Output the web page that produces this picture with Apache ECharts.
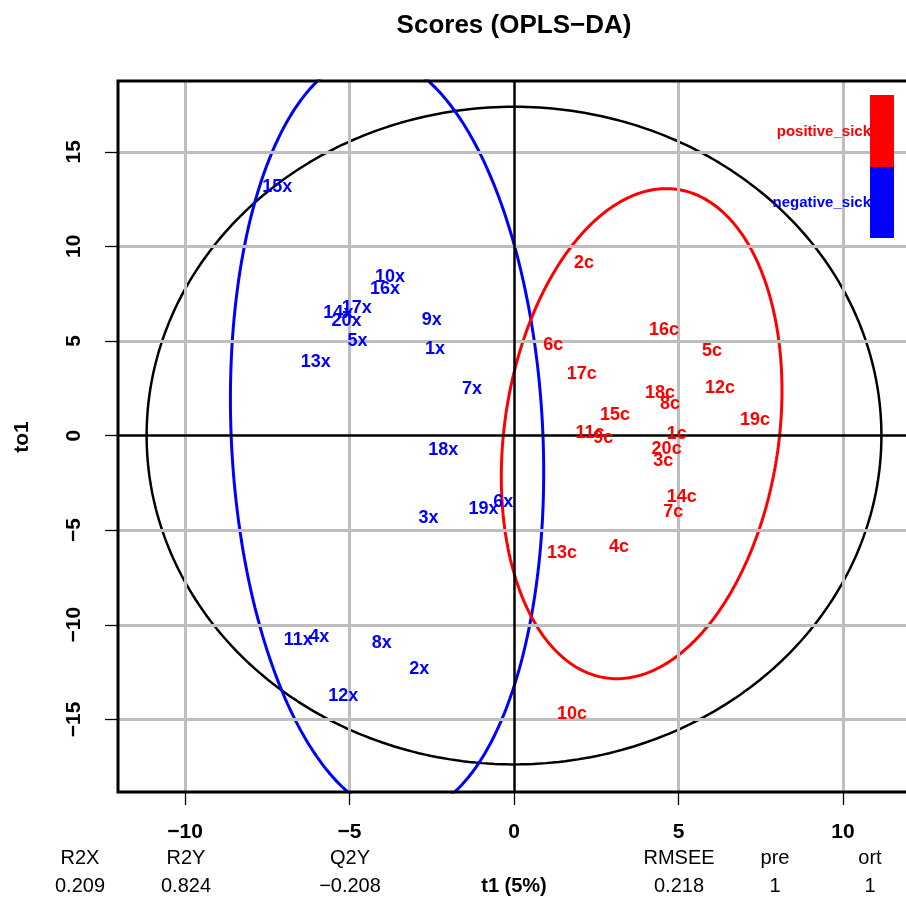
<!DOCTYPE html>
<html><head><meta charset="utf-8">
<script src="https://cdn.jsdelivr.net/npm/echarts@6/dist/echarts.min.js"></script>
<style>html,body{margin:0;padding:0;background:#fff}#c{width:906px;height:899px}</style>
</head><body><div id="c"></div><script>
// ---- data ----
const blueNames = ['1x','2x','3x','4x','5x','6x','7x','8x','9x','10x','11x','12x','13x','14x','15x','16x','17x','18x','19x','20x'];
const blueT1  = [-2.40,-2.88,-2.60,-5.92,-4.76,-0.33,-1.28,-4.02,-2.50,-3.77,-6.56,-5.19,-6.03,-5.34,-7.20,-3.92,-4.78,-2.15,-0.93,-5.09];
const blueTo1 = [ 4.56,-12.33,-4.38,-10.67,4.99,-3.50,2.46,-10.95,6.10,8.36,-10.81,-13.77,3.90,6.46,13.13,7.73,6.72,-0.77,-3.90,6.07];

const redNames = ['1c','2c','3c','4c','5c','6c','7c','8c','9c','10c','11c','12c','13c','14c','15c','16c','17c','18c','19c','20c'];
const redT1  = [4.95,2.13,4.54,3.19,6.02,1.19,4.84,4.74,2.71,1.76,2.31,6.26,1.46,5.10,3.07,4.56,2.06,4.44,7.33,4.64];
const redTo1 = [0.06,9.12,-1.33,-5.89,4.47,4.78,-4.03,1.65,-0.15,-14.72,0.12,2.49,-6.21,-3.23,1.08,5.58,3.25,2.23,0.82,-0.73];

const xTicks = [-10,-5,0,5,10];
const yTicks = [-15,-10,-5,0,5,10,15];
const xRange = [-12.04, 12.1];
const yRange = [-18.84, 18.74];

// ellipses: centre, half-width at centre, half-height, x-shift at top
const ellBlack = {cx:0, cy:0, w:11.17, h:17.38, s:0};
const ellBlue  = {cx:-3.86, cy:0, w:4.74, h:20.05, s:-0.46};
const ellRed   = {cx:3.88, cy:0.1, w:4.2, h:12.95, s:0.75};

const statNames  = ['R2X','R2Y','Q2Y','RMSEE','pre','ort'];
const statValues = ['0.209','0.824','\u22120.208','0.218','1','1'];
const legendNames = ['positive_sick','negative_sick'];

// ---- build ----
const RED = '#FF0000', BLUE = '#0000FF', GRAY = '#BEBEBE';
const FONT = '"Liberation Sans", Arial, Helvetica, sans-serif';
function pts(n, a, b){ return n.map((nm,i)=>[a[i], b[i], nm]); }
function ellipse(e){
  const out=[]; const N=360;
  for(let i=0;i<=N;i++){ const t=2*Math.PI*i/N;
    out.push([e.cx + e.w*Math.cos(t) + e.s*Math.sin(t), e.cy + e.h*Math.sin(t)]); }
  return out;
}
const minus = v => String(v).replace('-', '\u2212');

const chart = echarts.init(document.getElementById('c'), null, {renderer:'canvas'});
const labelSeries = (data, color) => ({
  type:'scatter', data, symbolSize:0, z:6, silent:true,
  itemStyle:{color, opacity:1},
  emphasis:{disabled:true},
  label:{show:true, position:'inside', formatter: p => p.data[2], opacity:1,
    color, fontFamily:FONT, fontWeight:'bold', fontSize:18}
});
const ellSeries = (e, color, w) => ({
  type:'line', data: ellipse(e), showSymbol:false, symbol:'none', z:4, silent:true,
  clip:true, lineStyle:{color, width:w}
});

const statX = [80, 186, 350, 679, 775, 870];
const graphic = [
  {type:'text', x:514, y:26, style:{text:'Scores (OPLS\u2212DA)', font:'bold 26px '+FONT, fill:'#000', align:'center', verticalAlign:'middle'}},
  {type:'text', x:22, y:437, rotation:Math.PI/2, style:{text:'to1', font:'bold 21px '+FONT, fill:'#000', align:'center', verticalAlign:'middle'}},
  {type:'text', x:514, y:886, style:{text:'t1 (5%)', font:'bold 20px '+FONT, fill:'#000', align:'center', verticalAlign:'middle'}},
  {type:'text', x:871, y:132, z:10, style:{text:legendNames[0], font:'bold 15px '+FONT, fill:RED, align:'right', verticalAlign:'middle'}},
  {type:'text', x:871, y:203, z:10, style:{text:legendNames[1], font:'bold 15px '+FONT, fill:BLUE, align:'right', verticalAlign:'middle'}},
  {type:'rect', z:11, shape:{x:870, y:95, width:24, height:72}, style:{fill:RED}},
  {type:'rect', z:11, shape:{x:870, y:167, width:24, height:71}, style:{fill:BLUE}}
];
statNames.forEach((n,i)=>{
  graphic.push({type:'text', x:statX[i], y:858, style:{text:n, font:'20px '+FONT, fill:'#000', align:'center', verticalAlign:'middle'}});
  graphic.push({type:'text', x:statX[i], y:886, style:{text:statValues[i], font:'20px '+FONT, fill:'#000', align:'center', verticalAlign:'middle'}});
});

const option = {
  animation:false,
  backgroundColor:'#fff',
  grid:{left:118, top:81, width:794, height:711, outerBoundsMode:'none', containLabel:false,
    show:true, borderColor:'#000', borderWidth:3, backgroundColor:'transparent', z:8},
  xAxis:{type:'value', min:xRange[0], max:xRange[1],
    axisLine:{show:false, onZero:false},
    axisTick:{show:true, customValues:xTicks, length:13, lineStyle:{color:'#000', width:1.3}},
    axisLabel:{customValues:xTicks, margin:30, formatter:minus, color:'#000', fontFamily:FONT, fontWeight:'bold', fontSize:21},
    splitLine:{show:false}},
  yAxis:{type:'value', min:yRange[0], max:yRange[1],
    axisLine:{show:false, onZero:false},
    axisTick:{show:true, customValues:yTicks, length:13, lineStyle:{color:'#000', width:1.3}},
    axisLabel:{customValues:yTicks, rotate:90, margin:33, formatter:minus, color:'#000', fontFamily:FONT, fontWeight:'bold', fontSize:21},
    splitLine:{show:false}},
  graphic,
  series:[
    {type:'scatter', data:[[0,0]], symbolSize:0, z:1, silent:true,
      markLine:{silent:true, symbol:['none','none'], label:{show:false}, animation:false,
        lineStyle:{color:GRAY, width:3, type:'solid'},
        data: xTicks.filter(v=>v!==0).map(v=>({xAxis:v})).concat(yTicks.filter(v=>v!==0).map(v=>({yAxis:v})))}},
    {type:'scatter', data:[[0,0]], symbolSize:0, z:2, silent:true,
      markLine:{silent:true, symbol:['none','none'], label:{show:false}, animation:false,
        lineStyle:{color:'#000', width:2.5, type:'solid'},
        data:[{xAxis:0},{yAxis:0}]}},
    ellSeries(ellBlack, '#000', 2.5),
    ellSeries(ellBlue, BLUE, 3),
    ellSeries(ellRed, RED, 3),
    labelSeries(pts(blueNames, blueT1, blueTo1), BLUE),
    labelSeries(pts(redNames, redT1, redTo1), RED)
  ]
};
chart.setOption(option);
</script></body></html>
